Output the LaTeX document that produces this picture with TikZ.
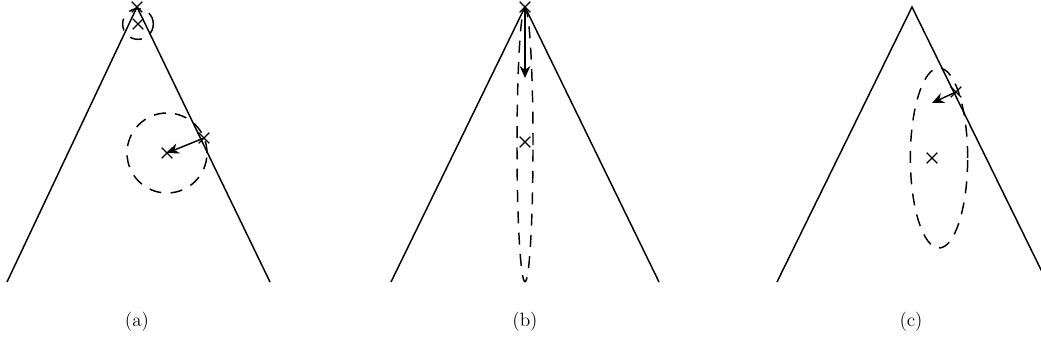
\documentclass[tikz,border=0pt]{standalone}
\usetikzlibrary{arrows.meta, shapes.geometric, shapes.misc, positioning}

\begin{document}
\begin{tikzpicture}[x=0.75pt, y=-0.75pt, line width=1.1pt,
    crs/.style={draw, cross out, inner sep=0pt, minimum size=7pt, line width=1pt},
    dsh/.style={draw, dash pattern=on 9pt off 7pt, inner sep=0pt},
    arr/.style={-{Stealth[length=9pt,width=8pt]}},
    lbl/.style={font=\Large}
]
    \useasboundingbox (0,0) rectangle (1041,353);
    % (a)
    \coordinate (apxA) at (137,7);
    \coordinate (blA) at (7,282);
    \coordinate (brA) at (270,282);
    \draw (blA) -- (apxA) -- (brA);
    \node[crs] (topA) at (apxA) {};
    \node[crs] (subA) at (138,24) {};
    \node[dsh, circle, minimum size=23pt] (ringA) at (subA) {};
    \node[crs] (ctrA) at (167,153) {};
    \node[dsh, circle, minimum size=60pt] (discA) at (ctrA) {};
    \node[crs] (hitA) at (204,138) {};
    \draw[arr] (hitA.center) -- (ctrA.center);
    \node[lbl] (capA) at (137,322) {(a)};
    % (b)
    \coordinate (apxB) at (525,7);
    \coordinate (blB) at (391,282);
    \coordinate (brB) at (659,282);
    \draw (blB) -- (apxB) -- (brB);
    \node[crs] (topB) at (apxB) {};
    \node[crs] (ctrB) at (525,142) {};
    \node[dsh, ellipse, minimum width=12pt, minimum height=205pt] (ovalB) at (525,145) {};
    \coordinate (endB) at (525,78);
    \draw[arr] (topB.center) -- (endB);
    \node[lbl] (capB) at (525,322) {(b)};
    % (c)
    \coordinate (apxC) at (912,7);
    \coordinate (blC) at (777,282);
    \coordinate (brC) at (1047,282);
    \draw (blC) -- (apxC) -- (brC);
    \node[crs] (ctrC) at (932,158) {};
    \node[dsh, ellipse, minimum width=43pt, minimum height=135pt] (ovalC) at (939,158) {};
    \node[crs] (hitC) at (956,92) {};
    \coordinate (endC) at (932,103);
    \draw[arr] (hitC.center) -- (endC);
    \node[lbl] (capC) at (911,322) {(c)};
\end{tikzpicture}
\end{document}
